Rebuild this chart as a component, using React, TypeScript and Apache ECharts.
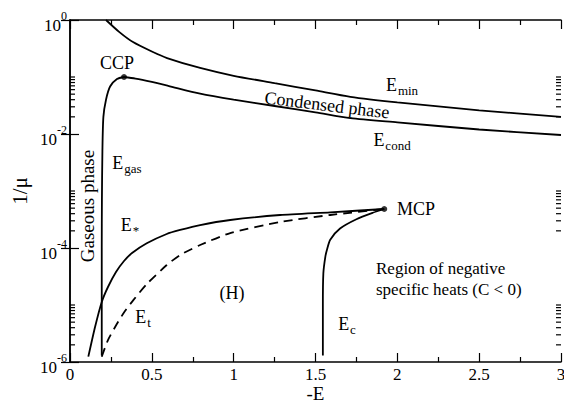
import React, { useEffect, useRef } from "react";
import * as echarts from "echarts";

// ---- data (x = -E, y = 1/mu) ----
const eMinX = [0.22, 0.3, 0.385, 0.5, 0.593, 0.795, 1.0, 1.25, 1.5, 1.713, 2.0, 2.5, 3.0];
const eMinY = [1.0, 0.62, 0.41, 0.28, 0.215, 0.144, 0.105, 0.078, 0.058, 0.045, 0.036, 0.026, 0.02];

const eCondX = [0.33, 0.4, 0.5, 0.6, 0.795, 1.0, 1.25, 1.5, 1.713, 2.0, 2.5, 3.0];
const eCondY = [0.1, 0.094, 0.082, 0.07, 0.051, 0.04, 0.031, 0.024, 0.019, 0.016, 0.012, 0.0096];

const eGasX = [0.194, 0.194, 0.195, 0.198, 0.204, 0.22, 0.245, 0.287, 0.33];
const eGasY = [1.3e-6, 1e-4, 7e-4, 5e-3, 0.02, 0.04, 0.068, 0.092, 0.1];

const eStarX = [0.112, 0.153, 0.194, 0.232, 0.281, 0.33, 0.379, 0.469, 0.591, 0.673, 0.795, 0.979, 1.284, 1.59, 1.92];
const eStarY = [1.24e-6, 4.1e-6, 1.13e-5, 2.07e-5, 3.79e-5, 5.91e-5, 8.17e-5, 1.21e-4, 1.76e-4, 2.07e-4, 2.53e-4, 3.1e-4, 3.79e-4, 4.23e-4, 4.83e-4];

const eTX = [0.194, 0.232, 0.286, 0.336, 0.387, 0.469, 0.591, 0.673, 0.795, 0.979, 1.284, 1.59, 1.92];
const eTY = [1.24e-6, 2.43e-6, 4.64e-6, 7.85e-6, 1.22e-5, 2.33e-5, 5.03e-5, 7.54e-5, 1.13e-4, 1.83e-4, 2.86e-4, 3.79e-4, 4.83e-4];

const eCX = [1.545, 1.545, 1.548, 1.56, 1.57, 1.59, 1.65, 1.75, 1.85, 1.92];
const eCY = [1.3e-6, 1e-5, 3.6e-5, 7e-5, 9.3e-5, 1.4e-4, 2.2e-4, 3.2e-4, 4.15e-4, 4.83e-4];

const criticalNames = ["CCP", "MCP"];
const criticalX = [0.33, 1.92];
const criticalY = [0.1, 4.83e-4];

// axis settings
const xMin = 0;
const xMax = 3;
const xInterval = 0.5;
const yMin = 1e-6;
const yMax = 1;
const minorMantissas = [2, 3, 4, 5, 6, 7, 8, 9, 10];
const minorDecades = [-2, -4, -6];

const FONT = "Liberation Serif";

const pairs = (xs: number[], ys: number[]) => xs.map((x, i) => [x, ys[i]]);

const minorTickValues: number[] = [];
minorDecades.forEach((d) => minorMantissas.forEach((m) => minorTickValues.push(m * Math.pow(10, d))));

export default function App() {
  const ref = useRef<HTMLDivElement>(null);
  useEffect(() => {
    if (!ref.current) return;
    const chart = echarts.init(ref.current, null, { renderer: "svg" });
    const lineStyle = { color: "#000", width: 1.8 };
    const baseLine = (name: string, xs: number[], ys: number[], extra: any = {}) => ({
      name,
      type: "line",
      data: pairs(xs, ys),
      showSymbol: false,
      symbol: "none",
      smooth: extra.smooth != null ? extra.smooth : 0.25,
      lineStyle: { ...lineStyle, ...(extra.lineStyle || {}) },
      xAxisIndex: 0,
      yAxisIndex: 0,
      silent: true,
    });
    const yLabelRich = {
      b: { fontFamily: FONT, fontSize: 17, color: "#000", padding: [10, 0, 0, 0], lineHeight: 17 },
      s: { fontFamily: FONT, fontSize: 12, color: "#000", padding: [0, 0, 8, 0], lineHeight: 12 },
    };
    const subRich = {
      b: { fontFamily: FONT, fontSize: 18, color: "#000", lineHeight: 18 },
      s: { fontFamily: FONT, fontSize: 13, color: "#000", padding: [10, 0, 0, 1], lineHeight: 13 },
    };
    const axisCommon = {
      axisLine: { show: true, lineStyle: { color: "#000", width: 1.5 } },
      splitLine: { show: false },
    };
    const txt = (text: string, x: number, y: number, extra: any = {}, rotation = 0) => ({
      type: "text",
      x,
      y,
      rotation,
      silent: true,
      style: {
        text,
        fontFamily: FONT,
        fontSize: 18,
        fill: "#000",
        align: "center",
        verticalAlign: "middle",
        rich: subRich,
        ...extra,
      },
    });
    const tickStyle = { color: "#000", width: 1.2 };
    const option: any = {
      animation: false,
      backgroundColor: "#fff",
      textStyle: { fontFamily: FONT },
      grid: { left: 70, right: 3, top: 20, bottom: 41, containLabel: false, outerBoundsMode: "none" },
      xAxis: [
        {
          type: "value",
          min: xMin,
          max: xMax,
          interval: xInterval,
          position: "bottom",
          ...axisCommon,
          axisTick: { show: true, inside: true, length: 9, lineStyle: tickStyle },
          minorTick: { show: true, splitNumber: 2, length: 5, lineStyle: tickStyle },
          minorSplitLine: { show: false },
          axisLabel: { fontFamily: FONT, fontSize: 17, color: "#000", margin: 5, lineHeight: 15 },
          name: "-E",
          nameLocation: "middle",
          nameGap: 23,
          nameMoveOverlap: false,
          nameTextStyle: { fontFamily: FONT, fontSize: 19, color: "#000", lineHeight: 16, verticalAlign: "top" },
        },
        {
          type: "value",
          min: xMin,
          max: xMax,
          interval: xInterval,
          position: "top",
          ...axisCommon,
          axisTick: { show: true, inside: true, length: 9, lineStyle: tickStyle },
          minorTick: { show: true, splitNumber: 2, length: 5, lineStyle: tickStyle },
          minorSplitLine: { show: false },
          axisLabel: { show: false },
        },
      ],
      yAxis: [
        {
          type: "log",
          logBase: 10,
          min: yMin,
          max: yMax,
          interval: 2,
          position: "left",
          ...axisCommon,
          axisTick: { show: true, inside: true, length: 9, lineStyle: tickStyle },
          axisLabel: {
            margin: 3,
            formatter: (v: number) => `{b|10}{s|${Math.round(Math.log10(v))}}`,
            rich: yLabelRich,
          },
          name: "1/μ",
          nameLocation: "middle",
          nameGap: 40,
          nameMoveOverlap: false,
          nameTextStyle: { fontFamily: FONT, fontSize: 21, color: "#000" },
        },
        {
          type: "log",
          logBase: 10,
          min: yMin,
          max: yMax,
          interval: 2,
          position: "right",
          ...axisCommon,
          axisTick: { show: true, inside: true, length: 9, lineStyle: tickStyle },
          axisLabel: { show: false },
        },
      ],
      series: [
        baseLine("Emin", eMinX, eMinY),
        baseLine("Econd", eCondX, eCondY),
        baseLine("Egas", eGasX, eGasY),
        baseLine("Estar", eStarX, eStarY, { smooth: 0.2 }),
        baseLine("Et", eTX, eTY, { smooth: 0.2, lineStyle: { type: [9, 6] } }),
        baseLine("Ec", eCX, eCY),
        {
          name: "critical",
          type: "scatter",
          data: criticalX.map((x, i) => ({ name: criticalNames[i], value: [x, criticalY[i]] })),
          symbol: "circle",
          symbolSize: 6,
          itemStyle: { color: "#000" },
          silent: true,
          z: 5,
        },
        {
          name: "yMinorTicks",
          type: "custom",
          silent: true,
          clip: false,
          data: minorTickValues.map((v) => [xMin, v]),
          renderItem: (params: any, api: any) => {
            const p = api.coord([xMin, api.value(1)]);
            const cs = params.coordSys;
            const st = { stroke: "#000", lineWidth: 1.2 };
            return {
              type: "group",
              children: [
                { type: "line", shape: { x1: cs.x, y1: p[1], x2: cs.x + 5, y2: p[1] }, style: st },
                { type: "line", shape: { x1: cs.x + cs.width, y1: p[1], x2: cs.x + cs.width - 5, y2: p[1] }, style: st },
              ],
            };
          },
        },
      ],
      graphic: [
        txt("CCP", 117, 63),
        txt("{b|E}{s|gas}", 127, 163),
        txt("Gaseous phase", 87, 206, { fontSize: 19 }, Math.PI / 2),
        txt("{b|E}{s|min}", 402, 85),
        txt("Condensed phase", 327, 105, {}, -0.12),
        txt("{b|E}{s|cond}", 392, 140),
        txt("{b|E}{s|*}", 130, 225),
        txt("{b|E}{s|t}", 143, 317),
        txt("(H)", 232, 293),
        txt("{b|E}{s|c}", 347, 324),
        txt("MCP", 397, 209, { align: "left" }),
        txt("Region of negative", 376, 268, { align: "left", fontSize: 17 }),
        txt("specific heats (C < 0)", 376, 289, { align: "left", fontSize: 17 }),
      ],
    };
    chart.setOption(option);
    return () => chart.dispose();
  }, []);
  return <div ref={ref} style={{ position: "absolute", left: 0, top: 0, width: 564, height: 403 }} />;
}
